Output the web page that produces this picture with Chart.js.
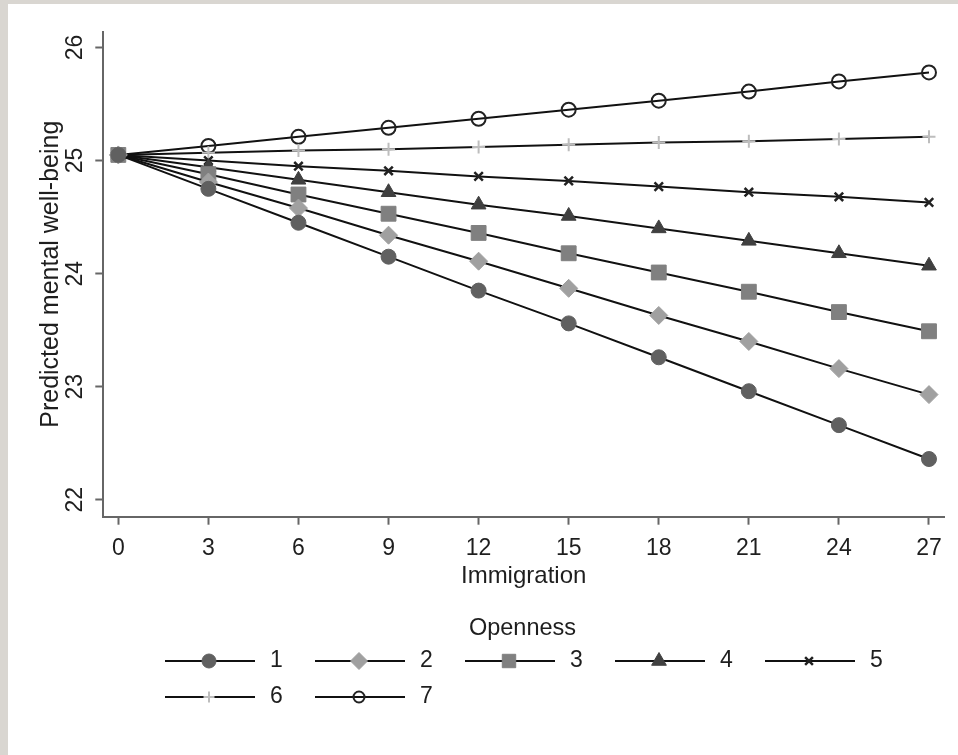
<!DOCTYPE html>
<html>
<head>
<meta charset="utf-8">
<title>Predicted mental well-being by immigration and openness</title>
<script src="https://cdn.jsdelivr.net/npm/chart.js@4.4.0/dist/chart.umd.min.js"></script>
<style>
  html, body { margin: 0; padding: 0; background: #d9d6d1; }
  #wrap { position: absolute; left: 8px; top: 4px; width: 950px; height: 751px; background: #fff; }
</style>
</head>
<body>
<div id="wrap"><canvas id="lineChart" width="950" height="751"></canvas></div>
<script>
// x values (immigration) and one series per openness level
let immigration = [0, 3, 6, 9, 12, 15, 18, 21, 24, 27];
let openness = ['1', '2', '3', '4', '5', '6', '7'];

let wellbeing1 = [25.05, 24.75, 24.45, 24.15, 23.85, 23.56, 23.26, 22.96, 22.66, 22.36];
let wellbeing2 = [25.05, 24.81, 24.58, 24.34, 24.11, 23.87, 23.63, 23.40, 23.16, 22.93];
let wellbeing3 = [25.05, 24.88, 24.70, 24.53, 24.36, 24.18, 24.01, 23.84, 23.66, 23.49];
let wellbeing4 = [25.05, 24.94, 24.83, 24.72, 24.61, 24.51, 24.40, 24.29, 24.18, 24.07];
let wellbeing5 = [25.05, 25.00, 24.95, 24.91, 24.86, 24.82, 24.77, 24.72, 24.68, 24.63];
let wellbeing6 = [25.05, 25.07, 25.09, 25.10, 25.12, 25.14, 25.16, 25.17, 25.19, 25.21];
let wellbeing7 = [25.05, 25.13, 25.21, 25.29, 25.37, 25.45, 25.53, 25.61, 25.70, 25.78];

let xTicks = [0, 3, 6, 9, 12, 15, 18, 21, 24, 27];
let yTicks = [22, 23, 24, 25, 26];

const FONT = '"Liberation Sans", Arial, sans-serif';
const TEXT = '#1e1e1e';
const AXIS = '#666';

// marker look for each openness level (stata style)
const markers = [
    { style: 'circle',   radius: 7.5,  fill: '#606060', border: '#606060', width: 1,   legend: 7 },
    { style: 'rectRot',  radius: 9,    fill: '#a0a0a0', border: '#a0a0a0', width: 1,   legend: 8.5 },
    { style: 'rect',     radius: 10.5, fill: '#808080', border: '#808080', width: 1,   legend: 9.5 },
    { style: 'triangle', radius: 8.5,  fill: '#404040', border: '#404040', width: 1,   legend: 8.5 },
    { style: 'crossRot', radius: 6,    fill: '#222',    border: '#222',    width: 2.5, legend: 5.5 },
    { style: 'cross',    radius: 6.5,  fill: '#bdbdbd', border: '#bdbdbd', width: 2,   legend: 5.5 },
    { style: 'circle',   radius: 7,    fill: 'rgba(0,0,0,0)', border: '#222', width: 2, legend: 5.5 }
];

let series = [wellbeing1, wellbeing2, wellbeing3, wellbeing4, wellbeing5, wellbeing6, wellbeing7];

let datasets = series.map((values, i) => ({
    label: openness[i],
    data: values,
    borderColor: '#111',
    borderWidth: 2,
    fill: false,
    tension: 0,
    pointStyle: markers[i].style,
    pointRadius: markers[i].radius,
    pointBackgroundColor: markers[i].fill,
    pointBorderColor: markers[i].border,
    pointBorderWidth: markers[i].width
}));

// rotated y tick labels + the two-row legend with its title
const stataText = {
    id: 'stataText',
    afterDraw(chart) {
        const ctx = chart.ctx;
        const yScale = chart.scales.y;
        ctx.save();
        ctx.fillStyle = TEXT;
        ctx.font = '23px ' + FONT;
        ctx.textAlign = 'center';
        ctx.textBaseline = 'middle';
        yScale.ticks.forEach(t => {
            ctx.save();
            ctx.translate(67.5, yScale.getPixelForValue(t.value));
            ctx.rotate(-Math.PI / 2);
            ctx.fillText(String(t.value), 0, 0);
            ctx.restore();
        });

        // legend
        ctx.font = '23.5px ' + FONT;
        ctx.fillText('Openness', 514.5, 625);
        ctx.font = '23px ' + FONT;
        chart.data.datasets.forEach((ds, i) => {
            const col = i % 5;
            const row = Math.floor(i / 5);
            const x0 = 157 + 150 * col;
            const y = 657 + 36 * row;
            ctx.strokeStyle = ds.borderColor;
            ctx.lineWidth = 2;
            ctx.beginPath();
            ctx.moveTo(x0, y);
            ctx.lineTo(x0 + 90, y);
            ctx.stroke();
            ctx.fillStyle = ds.pointBackgroundColor;
            ctx.strokeStyle = ds.pointBorderColor;
            ctx.lineWidth = ds.pointBorderWidth;
            Chart.helpers.drawPoint(ctx, {
                pointStyle: ds.pointStyle,
                radius: markers[i].legend,
                rotation: 0,
                borderWidth: ds.pointBorderWidth
            }, x0 + 44, y);
            ctx.fillStyle = TEXT;
            ctx.textAlign = 'left';
            ctx.fillText(ds.label, x0 + 105, y);
            ctx.textAlign = 'center';
        });
        ctx.restore();
    }
};

let ctx = document.getElementById('lineChart').getContext('2d');
let chart = new Chart(ctx, {
    type: 'line',
    data: {
        labels: immigration,
        datasets: datasets
    },
    options: {
        responsive: false,
        animation: false,
        layout: { padding: { top: 27.7, right: 14, left: 0, bottom: 158.3 } },
        plugins: {
            legend: { display: false },
            tooltip: { enabled: false }
        },
        scales: {
            x: {
                type: 'linear',
                min: -0.5,
                max: 27.5,
                afterBuildTicks: scale => { scale.ticks = xTicks.map(v => ({ value: v })); },
                afterFit: scale => { scale.height = 80; },
                border: { color: AXIS, width: 2 },
                grid: { drawOnChartArea: false, tickLength: 8, tickColor: AXIS, tickWidth: 2 },
                ticks: { color: TEXT, font: { family: FONT, size: 23 }, padding: 10, maxRotation: 0 },
                title: { display: true, text: 'Immigration', color: TEXT,
                         font: { family: FONT, size: 24 }, padding: { top: 0, bottom: 6 } }
            },
            y: {
                min: 21.85,
                max: 26.14,
                afterBuildTicks: scale => { scale.ticks = yTicks.map(v => ({ value: v })); },
                afterFit: scale => { scale.width = 95.3; },
                border: { color: AXIS, width: 2 },
                grid: { drawOnChartArea: false, tickLength: 8, tickColor: AXIS, tickWidth: 2 },
                ticks: { display: false },
                title: { display: true, text: 'Predicted mental well-being', color: TEXT,
                         font: { family: FONT, size: 25 }, padding: { top: 28, bottom: 0 } }
            }
        }
    },
    plugins: [stataText]
});
</script>
</body>
</html>
